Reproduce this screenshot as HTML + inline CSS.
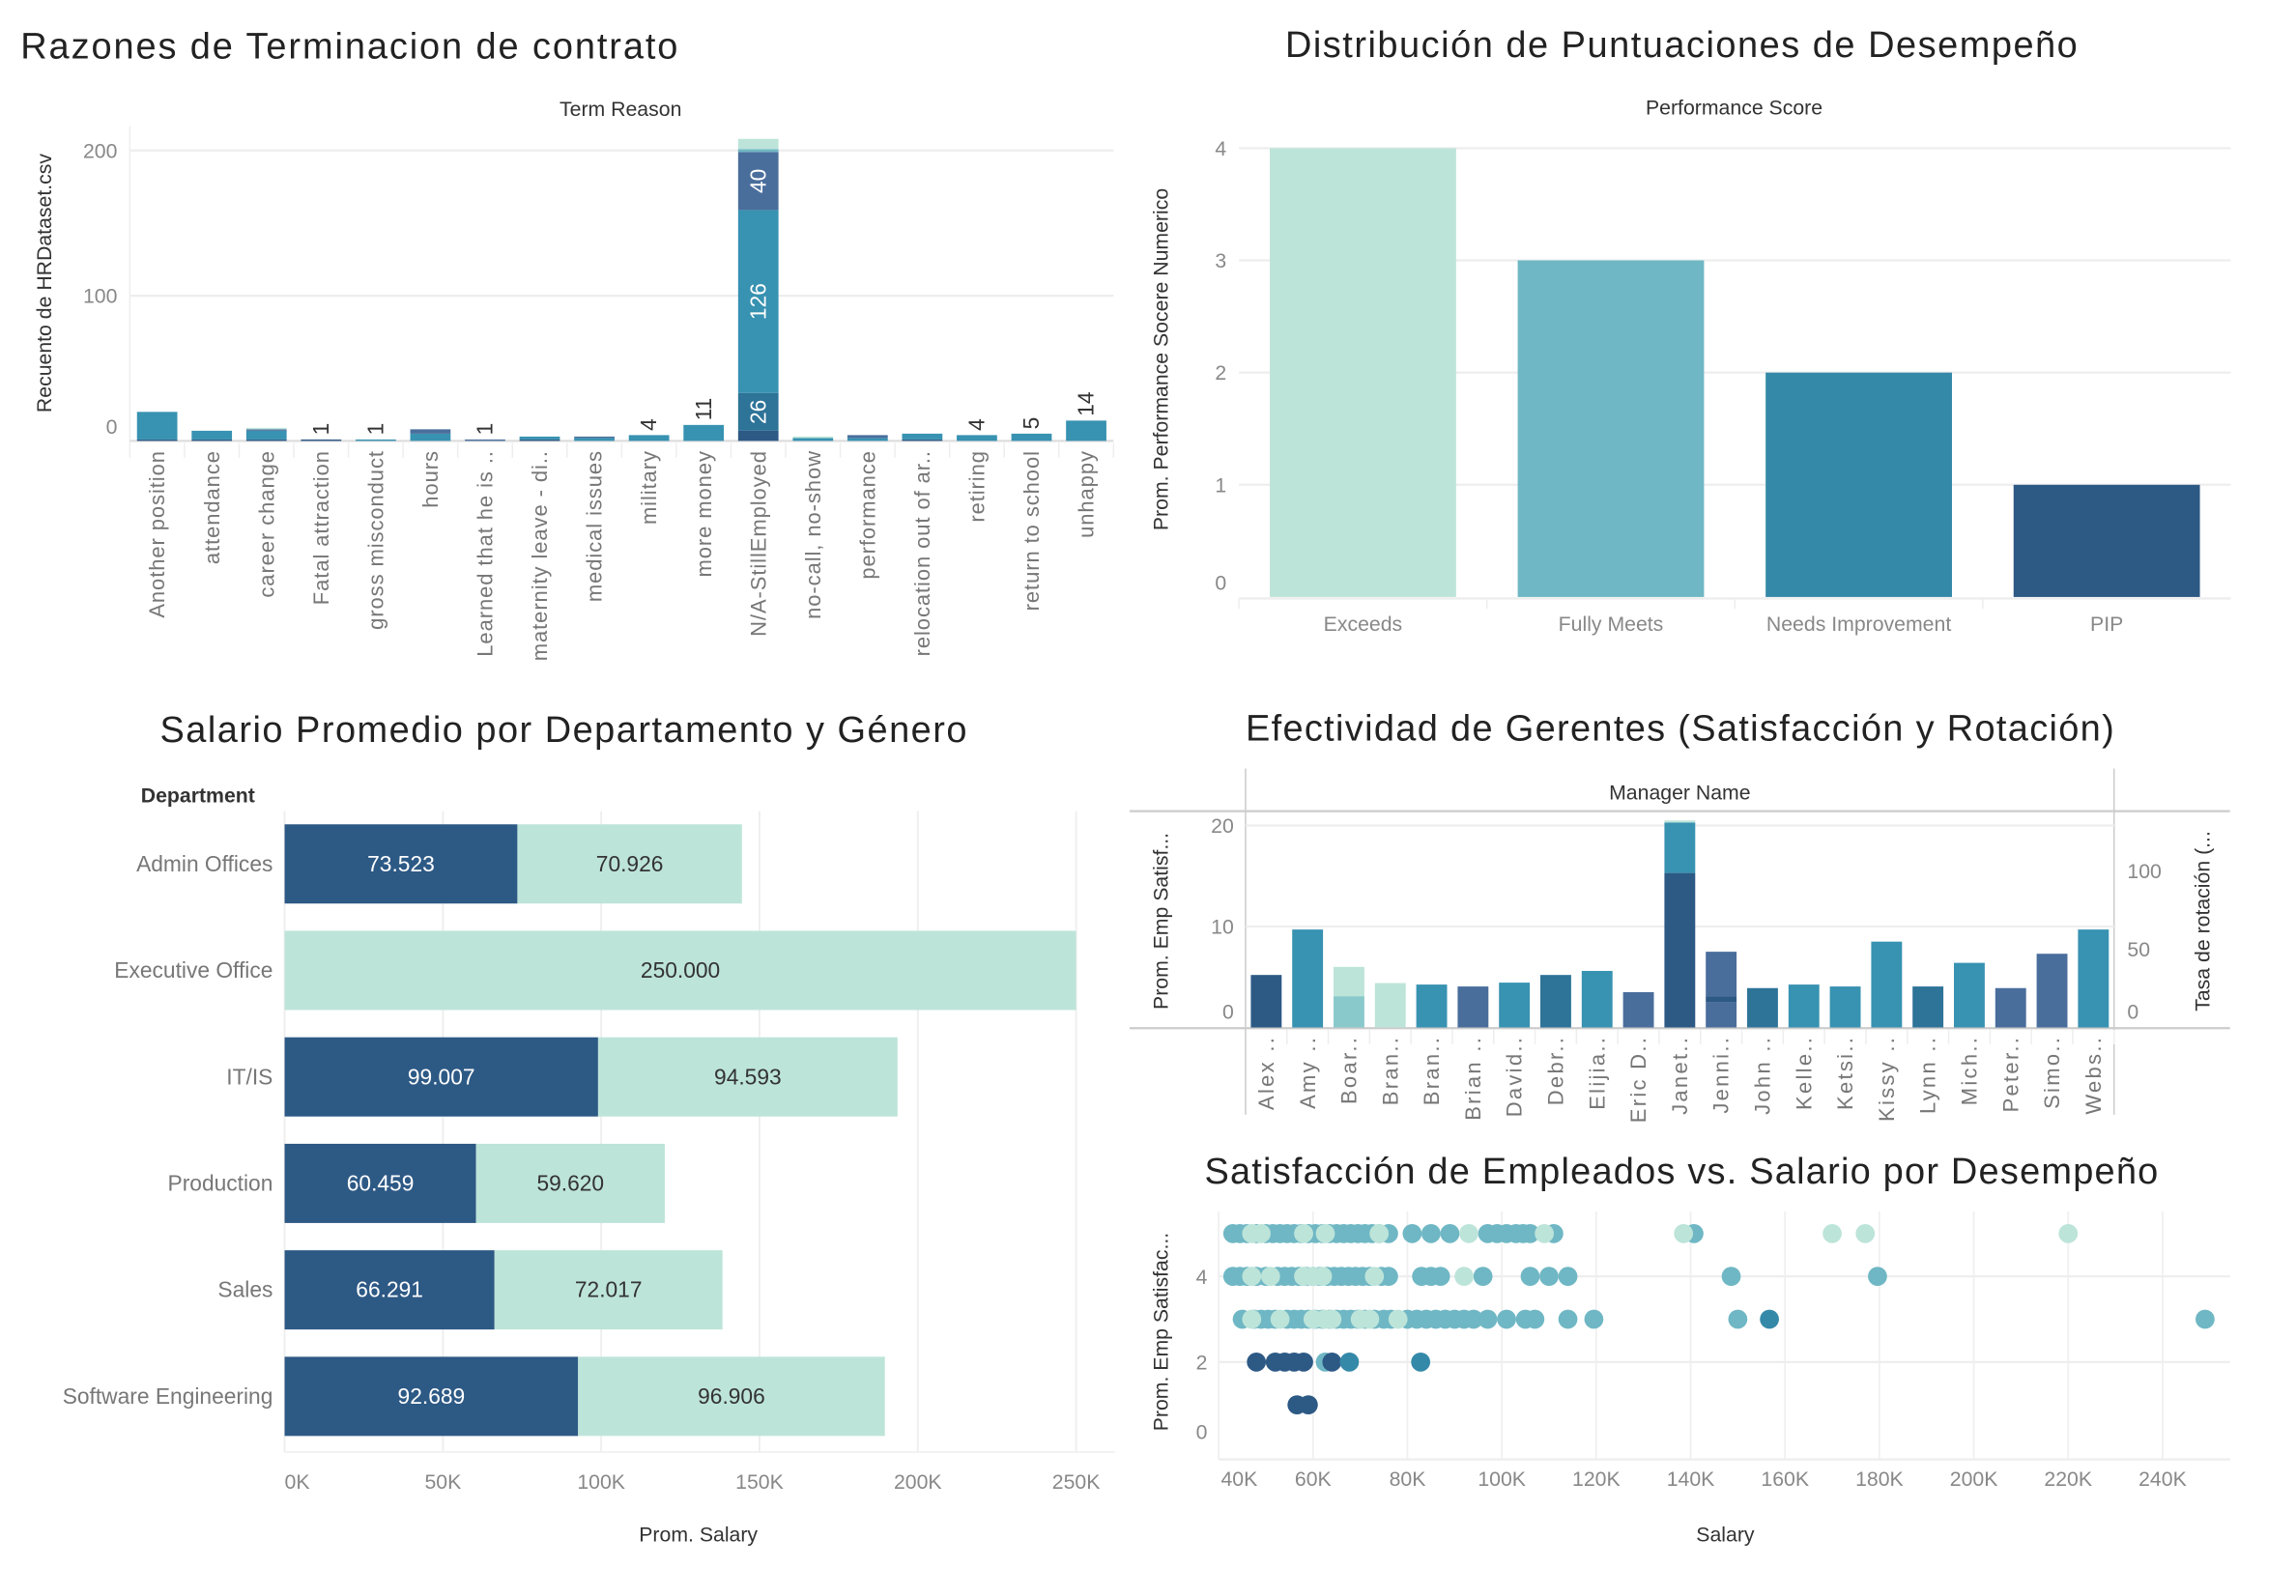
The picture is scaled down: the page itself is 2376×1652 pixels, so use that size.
<!DOCTYPE html>
<html><head><meta charset="utf-8"><style>
html,body{margin:0;padding:0;background:#fff;overflow:hidden}
svg{display:block;font-family:"Liberation Sans",sans-serif}
.t{fill:#222;font-size:25px}
.ax{fill:#888;font-size:14px}
.at{fill:#333;font-size:14px}
</style></head><body>
<svg id="s" width="2376" height="1652" viewBox="0 0 1565 1088.1" xmlns="http://www.w3.org/2000/svg">
<rect width="1600" height="1100" fill="#fff"/>
<g id="c1">
<text class="t" x="14" y="40" textLength="448">Razones de Terminacion de contrato</text>
<text class="at" x="423" y="79" text-anchor="middle">Term Reason</text>
<text class="at" transform="translate(35,193) rotate(-90)" text-anchor="middle">Recuento de HRDataset.csv</text>
<line x1="88.5" y1="86" x2="88.5" y2="312" stroke="#eee"/>
</g>
<g id="c2">
<text class="t" x="1146" y="39" text-anchor="middle" textLength="540">Distribución de Puntuaciones de Desempeño</text>
<text class="at" x="1182" y="78" text-anchor="middle">Performance Score</text>
<text class="at" transform="translate(796,245) rotate(-90)" text-anchor="middle">Prom. Performance Socere Numerico</text>
</g>
<g id="c3">
<text class="t" x="384" y="506" text-anchor="middle" textLength="550">Salario Promedio por Departamento y Género</text>
<text class="at" x="96" y="547" font-weight="bold" font-size="15">Department</text>
<text class="at" x="476" y="1051" text-anchor="middle" font-size="15">Prom. Salary</text>
</g>
<g id="c4">
<text class="t" x="1145" y="505" text-anchor="middle" textLength="592">Efectividad de Gerentes (Satisfacción y Rotación)</text>
<text class="at" x="1145" y="545" text-anchor="middle">Manager Name</text>
<line x1="770" y1="553" x2="1520" y2="553" stroke="#ccc" stroke-width="1.5"/>
<line x1="770" y1="701" x2="1520" y2="701" stroke="#ccc" stroke-width="1.5"/>
<line x1="849" y1="524" x2="849" y2="760" stroke="#ccc"/>
<line x1="1441" y1="524" x2="1441" y2="760" stroke="#ccc"/>
<text class="at" transform="translate(796,628) rotate(-90)" text-anchor="middle">Prom. Emp Satisf...</text>
<text class="at" transform="translate(1506,628) rotate(-90)" text-anchor="middle">Tasa de rotación (...</text>
</g>
<g id="c5">
<text class="t" x="1146" y="807" text-anchor="middle" textLength="650">Satisfacción de Empleados vs. Salario por Desempeño</text>
<text class="at" transform="translate(796,908) rotate(-90)" text-anchor="middle">Prom. Emp Satisfac...</text>
<text class="at" x="1176" y="1051" text-anchor="middle" font-size="15">Salary</text>
</g>
</svg>
<script>
var C = {navy:'#2d5985', blue:'#4a6e9c', teal:'#3892b1', dteal:'#2e7398', nimp:'#3589a8', mid:'#6fb7c4', midl:'#8ac9cb', light:'#bde4d9'};
var NS = 'http://www.w3.org/2000/svg';
function mk(tag, attrs, parent){var e=document.createElementNS(NS,tag);for(var k in attrs)e.setAttribute(k,attrs[k]);parent.appendChild(e);return e;}

/* ---------- Chart 1 data ---------- */
var termReasons = ['Another position','attendance','career change','Fatal attraction','gross misconduct','hours','Learned that he is ..','maternity leave - di..','medical issues','military','more money','N/A-StillEmployed','no-call, no-show','performance','relocation out of ar..','retiring','return to school','unhappy'];
var termNavy  = [1,1,1,1,0,0,0,1,0,0,0,7,0,0,1,0,0,0];
var termDTeal = [0,0,0,0,0,0,0,0,0,0,0,26,0,0,0,0,0,0];
var termTeal  = [19,6,6,0,1,5,0,2,2,4,11,126,2,2,4,4,5,14];
var termBlue  = [0,0,1,0,0,3,1,0,1,0,0,40,0,2,0,0,0,0];
var termMid   = [0,0,0,0,0,0,0,0,0,0,0,2,0,0,0,0,0,0];
var termLight = [0,0,1,0,0,0,0,0,0,0,0,7,1,0,0,0,0,0];
var termTotalLabels = ['','','','1','1','','1','','','4','11','','','','','4','5','14'];
var termTicks = [0,100,200];

var g1 = document.getElementById('c1');
function ty(v){return 300.6 - 0.99*v;}
var band1 = (759-88.5)/termReasons.length;
termTicks.forEach(function(t){
  var l = mk('line',{x1:88.5,x2:759,y1:ty(t),y2:ty(t),stroke:t===0?'#ddd':'#eee','stroke-width':1.5},g1);
  
  
  var tx = mk('text',{x:80,y:ty(t)+(t===0?-5:5),'text-anchor':'end','class':'ax','font-size':'15'},g1);
  tx.textContent = t;
  
  
});
var layers1 = [[termNavy,C.navy],[termDTeal,C.dteal],[termTeal,C.teal],[termBlue,C.blue],[termMid,C.mid],[termLight,C.light]];
termReasons.forEach(function(name,i){
  var cx = 88.5 + (i+0.5)*band1, bw = 27.5, acc = 0;
  layers1.forEach(function(L){
    var v = L[0][i]; if(!v) return;
    var r = mk('rect',{x:cx-bw/2,y:ty(acc+v),width:bw,height:ty(acc)-ty(acc+v),fill:L[1]},g1);
    
    
    if(v>=20){
      var st = mk('text',{transform:'translate('+(cx+5)+','+((ty(acc)+ty(acc+v))/2)+') rotate(-90)','text-anchor':'middle',fill:'#fff','font-size':'15'},g1);
      st.textContent = v;
      
      
    }
    acc += v;
  });
  var d = mk('line',{x1:88.5+(i+1)*band1,x2:88.5+(i+1)*band1,y1:302,y2:312,stroke:'#eee'},g1);
  
  
  if(termTotalLabels[i]){
    var vl = mk('text',{transform:'translate('+(cx+5)+','+(ty(acc)-3)+') rotate(-90)','text-anchor':'start',fill:'#333','font-size':'15'},g1);
    vl.textContent = termTotalLabels[i];
    
    
  }
  var cl = mk('text',{transform:'translate('+(cx+5)+',307) rotate(-90)','text-anchor':'end',fill:'#777','font-size':'14.5','letter-spacing':'0.6'},g1);
  cl.textContent = name;
  
  
});

/* ---------- Chart 2 data ---------- */
var perfCategories = ['Exceeds','Fully Meets','Needs Improvement','PIP'];
var perfValues = [4,3,2,1];
var perfColors = [C.light, C.mid, C.nimp, C.navy];
var perfTicks = [0,1,2,3,4];
var g2 = document.getElementById('c2');
function py(v){return 407 - 76.5*v;}
var p2left = 844.5, band2 = 169;
perfTicks.forEach(function(t){
  if(t>0){
    var l = mk('line',{x1:p2left,x2:p2left+4*band2,y1:py(t),y2:py(t),stroke:'#eee','stroke-width':1.5},g2);
    
    
  }
  var tx = mk('text',{x:836,y:t===0?py(t)-5:py(t)+5,'text-anchor':'end','class':'ax','font-size':'15'},g2);
  tx.textContent = t;
  
  
});
var pb = mk('line',{x1:p2left,x2:p2left+4*band2,y1:408,y2:408,stroke:'#eee','stroke-width':1.5},g2);


perfCategories.forEach(function(c,i){
  var cx = p2left + (i+0.5)*band2;
  var r = mk('rect',{x:cx-63.5,y:py(perfValues[i]),width:127,height:py(0)-py(perfValues[i]),fill:perfColors[i]},g2);
  
  
  var tk = mk('line',{x1:p2left+i*band2,x2:p2left+i*band2,y1:408,y2:415,stroke:'#eee'},g2);
  
  
  var tx = mk('text',{x:cx,y:430,'text-anchor':'middle','class':'ax','font-size':'15'},g2);
  tx.textContent = c;
  
  
});

/* ---------- Chart 3 data ---------- */
var departments = ['Admin Offices','Executive Office','IT/IS','Production','Sales','Software Engineering'];
var salaryMale   = [73523,0,99007,60459,66291,92689];
var salaryFemale = [70926,250000,94593,59620,72017,96906];
var salaryTicks = [0,50000,100000,150000,200000,250000];
var salaryTickLabels = ['0K','50K','100K','150K','200K','250K'];
var g3 = document.getElementById('c3');
function sx(v){return 194 + v*539.5/250000;}
function fmt(v){var s=String(v);return s.slice(0,s.length-3)+'.'+s.slice(-3);}
salaryTicks.forEach(function(t,i){
  var l = mk('line',{x1:sx(t),x2:sx(t),y1:553,y2:990,stroke:'#eee','stroke-width':1.2},g3);
  
  
  var tx = mk('text',{x:sx(t),y:1015,'text-anchor':i===0?'start':'middle','class':'ax','font-size':'15'},g3);
  tx.textContent = salaryTickLabels[i];
  
  
});
var sb = mk('line',{x1:194,x2:760,y1:990,y2:990,stroke:'#eee'},g3);


departments.forEach(function(d,i){
  var cy = 589 + i*72.6;
  var lab = mk('text',{x:186,y:cy+5,'text-anchor':'end',fill:'#777','font-size':'15'},g3);
  lab.textContent = d;
  
  
  var m = salaryMale[i], f = salaryFemale[i];
  if(m){
    var r1 = mk('rect',{x:sx(0),y:cy-27,width:sx(m)-sx(0),height:54,fill:C.navy},g3);
    
    
    var t1 = mk('text',{x:(sx(0)+sx(m))/2,y:cy+5,'text-anchor':'middle',fill:'#fff','font-size':'15'},g3);
    t1.textContent = fmt(m);
    
    
  }
  var r2 = mk('rect',{x:sx(m),y:cy-27,width:sx(m+f)-sx(m),height:54,fill:C.light},g3);
  
  
  var t2 = mk('text',{x:(sx(m)+sx(m+f))/2,y:cy+5,'text-anchor':'middle',fill:'#333','font-size':'15'},g3);
  t2.textContent = fmt(f);
  
  
});

/* ---------- Chart 4 data ---------- */
var managers = ['Alex ..','Amy ..','Boar..','Bran..','Bran..','Brian ..','David..','Debr..','Elijia..','Eric D..','Janet..','Jenni..','John ..','Kelle..','Ketsi..','Kissy ..','Lynn ..','Mich..','Peter..','Simo..','Webs..'];
var mgrSeg1 = [5.2,9.7,3.1,4.4,4.25,4.06,4.44,5.2,5.6,3.5,15.3,2.5,3.9,4.25,4.06,8.5,4.06,6.4,3.9,7.3,9.7];
var mgrSeg2 = [0,0,2.9,0,0,0,0,0,0,0,5.0,0.6,0,0,0,0,0,0,0,0,0];
var mgrSeg3 = [0,0,0,0,0,0,0,0,0,0,0.2,4.4,0,0,0,0,0,0,0,0,0];
var mgrCol1 = ['navy','teal','midl','light','teal','blue','teal','dteal','teal','blue','navy','blue','dteal','teal','teal','teal','dteal','teal','blue','blue','teal'];
var mgrCol2 = ['','','light','','','','','','','','teal','navy','','','','','','','','',''];
var mgrCol3 = ['','','','','','','','','','','light','blue','','','','','','','','',''];
var mgrLeftTicks = [0,10,20];
var mgrRightTicks = [0,50,100];
var g4 = document.getElementById('c4');
function my(v){return 700.5 - 6.885*v;}
function ry(v){return 700.5 - 1.067*v;}
var x0m = 849, band4 = (1441-849)/managers.length;
mgrLeftTicks.forEach(function(t){
  if(t>0){
    var l = mk('line',{x1:849,x2:1441,y1:my(t),y2:my(t),stroke:'#eee','stroke-width':1.5},g4);
    
    
  }
  var tx = mk('text',{x:841,y:t===0?my(t)-6:my(t)+5,'text-anchor':'end','class':'ax','font-size':'15'},g4);
  tx.textContent = t;
  
  
});
mgrRightTicks.forEach(function(t){
  var tx = mk('text',{x:1450,y:t===0?ry(t)-6:ry(t)+5,'text-anchor':'start','class':'ax','font-size':'15'},g4);
  tx.textContent = t;
  
  
});
managers.forEach(function(n,i){
  var cx = x0m + (i+0.5)*band4, bw = 21, acc = 0;
  [[mgrSeg1,mgrCol1],[mgrSeg2,mgrCol2],[mgrSeg3,mgrCol3]].forEach(function(L){
    var v = L[0][i]; if(!v) return;
    var r = mk('rect',{x:cx-bw/2,y:my(acc+v),width:bw,height:my(acc)-my(acc+v),fill:C[L[1][i]]},g4);
    
    
    acc += v;
  });
  var d = mk('line',{x1:x0m+(i+1)*band4,x2:x0m+(i+1)*band4,y1:702,y2:712,stroke:'#eee'},g4);
  
  
  var lab = mk('text',{transform:'translate('+(cx+5)+',706) rotate(-90)','text-anchor':'end',fill:'#777','font-size':'14.5','letter-spacing':'1.5'},g4);
  lab.textContent = n;
  
  
});

/* ---------- Chart 5 data ---------- */
var scatterSalary = [
 43000,44500,46000,48000,50000,51500,53000,54500,56000,57500,59000,60500,62000,63500,65000,66500,68000,69500,71000,72500,74000,76000,81000,85000,89000,97000,99000,101000,103000,104500,106000,111000,140700,
 47000,49000,58000,62600,74000,93000,109000,138500,170000,177000,220000,
 43000,44500,46000,48000,50000,52500,54000,55500,57000,58500,60000,61500,63000,64500,66000,67500,69000,70500,72000,74500,76000,83000,85000,87000,96000,106000,110000,114000,148600,179600,
 47000,51000,58000,60000,62000,73000,92000,
 45000,47500,49000,50500,52000,54500,56000,57500,59000,60500,62000,63500,65000,66500,68000,69500,71000,73000,75000,76500,80000,82000,84000,86000,88000,90000,92000,94000,97000,101000,105000,107000,114000,119500,150000,249000,
 47000,53000,60000,62500,64000,70000,72000,78000,156700,
 48000,52000,54000,56000,58000,62600,64000,67700,82800,
 56600,59000];
var scatterSatisfaction = [
 5,5,5,5,5,5,5,5,5,5,5,5,5,5,5,5,5,5,5,5,5,5,5,5,5,5,5,5,5,5,5,5,5,
 5,5,5,5,5,5,5,5,5,5,5,
 4,4,4,4,4,4,4,4,4,4,4,4,4,4,4,4,4,4,4,4,4,4,4,4,4,4,4,4,4,4,
 4,4,4,4,4,4,4,
 3,3,3,3,3,3,3,3,3,3,3,3,3,3,3,3,3,3,3,3,3,3,3,3,3,3,3,3,3,3,3,3,3,3,3,3,
 3,3,3,3,3,3,3,3,3,
 2,2,2,2,2,2,2,2,2,
 1,1];
var scatterPerf = [].concat(
 Array(33).fill('mid'), Array(11).fill('light'),
 Array(30).fill('mid'), Array(7).fill('light'),
 Array(36).fill('mid'), ['light','light','light','light','light','light','light','light','nimp'],
 ['navy','navy','navy','navy','navy','mid','navy','nimp','nimp'],
 ['navy','navy']);
var scatterXTicks = [40000,60000,80000,100000,120000,140000,160000,180000,200000,220000,240000];
var scatterXLabels = ['40K','60K','80K','100K','120K','140K','160K','180K','200K','220K','240K'];
var scatterYTicks = [0,2,4];
var g5 = document.getElementById('c5');
function scx(v){return 895 + (v-60000)*0.003217;}
function scy(v){return 987 - 29.2*v;}
scatterXTicks.forEach(function(t,i){
  var l = mk('line',{x1:scx(t),x2:scx(t),y1:826,y2:995,stroke:'#f0f0f0','stroke-width':1.2},g5);
  
  
  var tx = mk('text',{x:scx(t)+(i===0?14:0),y:1013,'text-anchor':'middle','class':'ax','font-size':'15'},g5);
  tx.textContent = scatterXLabels[i];
  
  
});
scatterYTicks.forEach(function(t){
  if(t>0){
    var l = mk('line',{x1:scx(40000),x2:1520,y1:scy(t),y2:scy(t),stroke:'#eee','stroke-width':1.5},g5);
    
    
  }
  var tx = mk('text',{x:823,y:t===0?scy(t)-6:scy(t)+5,'text-anchor':'end','class':'ax','font-size':'15'},g5);
  tx.textContent = t;
  
  
});
var xb = mk('line',{x1:scx(40000),x2:1520,y1:995,y2:995,stroke:'#eee','stroke-width':1.5},g5);


scatterSalary.forEach(function(s,i){
  var c = mk('circle',{cx:scx(s),cy:scy(scatterSatisfaction[i]),r:6.5,fill:C[scatterPerf[i]]},g5);
  
  
});
</script>
</body></html>
